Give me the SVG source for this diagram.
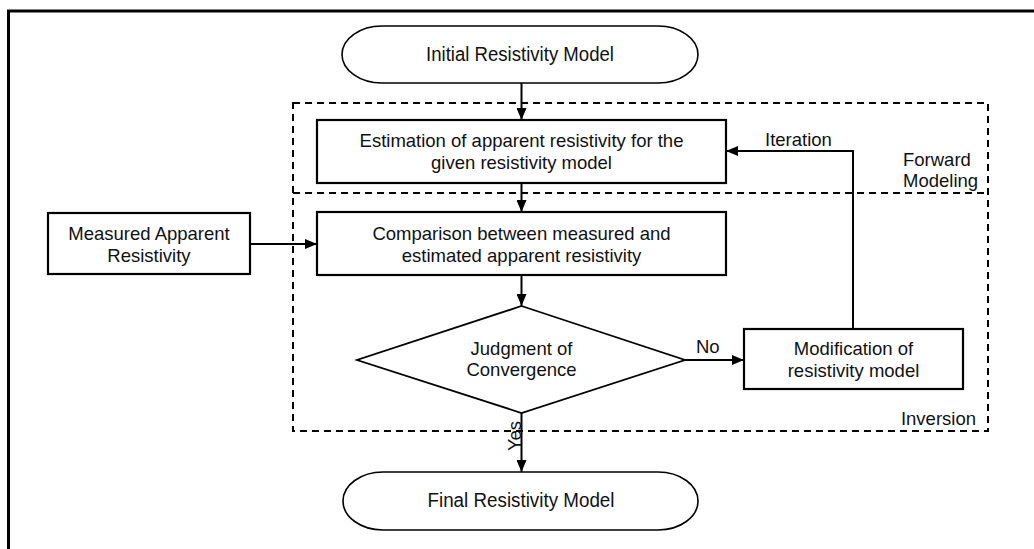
<svg xmlns="http://www.w3.org/2000/svg" width="1034" height="549" viewBox="0 0 1034 549">
<style>
text{font-family:"Liberation Sans",Arial,sans-serif;font-size:18.5px;fill:#111}
.c{text-anchor:middle}
.t{font-size:20px}
.box{fill:#fff;stroke:#000;stroke-width:2.2}
.term{fill:#fff;stroke:#000;stroke-width:1.6}
.dash{fill:none;stroke:#000;stroke-width:2;stroke-dasharray:7,5}
.ln{fill:none;stroke:#000;stroke-width:2}
</style>
<defs>
<marker id="ah" markerWidth="12" markerHeight="10" refX="12" refY="5" orient="auto" markerUnits="userSpaceOnUse">
<path d="M0,0 L12,5 L0,10 Z" fill="#000"/>
</marker>
</defs>
<rect x="0" y="0" width="1034" height="549" fill="#fff"/>
<rect x="8.5" y="11" width="1200" height="700" fill="none" stroke="#000" stroke-width="3"/>

<g id="regions">
<rect class="dash" x="293" y="103" width="695" height="328"/>
<line class="dash" x1="293" y1="193" x2="988" y2="193"/>
<text x="903" y="166">Forward</text>
<text x="903" y="187">Modeling</text>
<text x="976" y="425" text-anchor="end">Inversion</text>
</g>

<g id="initial">
<rect class="term" x="342" y="26" width="356" height="57" rx="40" ry="28.5"/>
<text class="c t" x="520" y="61" textLength="188" lengthAdjust="spacingAndGlyphs">Initial Resistivity Model</text>
</g>

<g id="estimation">
<rect class="box" x="317" y="120" width="409" height="63"/>
<text class="c" x="521.5" y="147">Estimation of apparent resistivity for the</text>
<text class="c" x="521.5" y="169">given resistivity model</text>
</g>

<g id="measured">
<rect class="box" x="48" y="213" width="202" height="61"/>
<text class="c" x="149" y="240">Measured Apparent</text>
<text class="c" x="149" y="262">Resistivity</text>
</g>

<g id="comparison">
<rect class="box" x="317" y="212" width="409" height="63"/>
<text class="c" x="521.5" y="240">Comparison between measured and</text>
<text class="c" x="521.5" y="262">estimated apparent resistivity</text>
</g>

<g id="judgment">
<polygon points="521.5,306 685,360 521.5,413 357,360" fill="#fff" stroke="#000" stroke-width="1.8"/>
<text class="c" x="521.5" y="355">Judgment of</text>
<text class="c" x="521.5" y="376">Convergence</text>
</g>

<g id="modification">
<rect class="box" x="744" y="329" width="219" height="60"/>
<text class="c" x="853.5" y="355">Modification of</text>
<text class="c" x="853.5" y="377">resistivity model</text>
</g>

<g id="final">
<rect class="term" x="343" y="472" width="355" height="58" rx="40" ry="29"/>
<text class="c t" x="521" y="507" textLength="187" lengthAdjust="spacingAndGlyphs">Final Resistivity Model</text>
</g>

<g id="connectors">
<line class="ln" x1="521.5" y1="83" x2="521.5" y2="120" marker-end="url(#ah)"/>
<line class="ln" x1="521.5" y1="183" x2="521.5" y2="212" marker-end="url(#ah)"/>
<line class="ln" x1="250" y1="244" x2="317" y2="244" marker-end="url(#ah)"/>
<line class="ln" x1="521.5" y1="275" x2="521.5" y2="306" marker-end="url(#ah)"/>
<line class="ln" x1="685" y1="360" x2="744" y2="360" marker-end="url(#ah)"/>
<polyline class="ln" points="853,329 853,151 726,151" marker-end="url(#ah)"/>
<line class="ln" x1="521.5" y1="413" x2="521.5" y2="472" marker-end="url(#ah)"/>
<text x="696" y="353">No</text>
<text x="765" y="146">Iteration</text>
<text class="c" transform="translate(520.5,436) rotate(-90)" x="0" y="0">Yes</text>
</g>
</svg>
